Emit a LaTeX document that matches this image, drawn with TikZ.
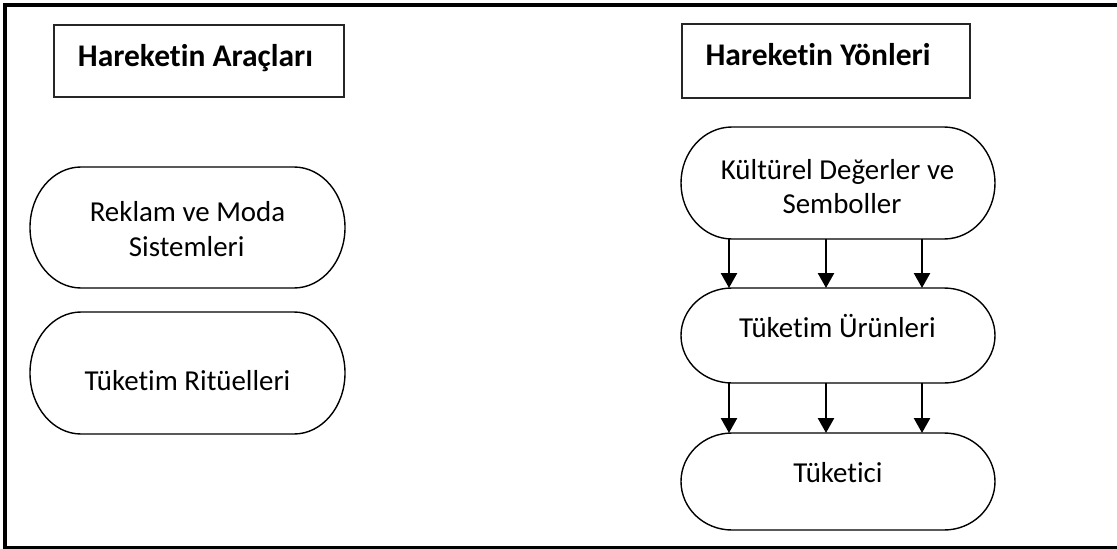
\documentclass[tikz,border=0pt]{standalone}
\usepackage{fontspec}
\setmainfont{Carlito}[Ligatures=NoCommon]
\usetikzlibrary{arrows.meta,calc}

% Outline of a flowchart "terminator": straight top and bottom edges,
% elliptical ends spanning the full height of the named node.
\newcommand\termoutline[1]{%
  \draw[termline] let \p1=(#1.north east), \p2=(#1.south west),
      \n1={(\y1-\y2)/2} in
    (\x2+51pt,\y1) -- (\x1-51pt,\y1)
    arc[start angle=90,end angle=-90,x radius=51pt,y radius=\n1]
    -- (\x2+51pt,\y2)
    arc[start angle=270,end angle=90,x radius=51pt,y radius=\n1]
    -- cycle;}

\begin{document}
\begin{tikzpicture}[x=1pt,y=-1pt,
  frameline/.style={line width=3.4pt},
  headbox/.style={draw=black!85,line width=1.5pt,inner sep=0pt,outer sep=0pt},
  termbox/.style={draw=none,inner sep=0pt,outer sep=0pt},
  termline/.style={line width=1.4pt},
  headtext/.style={inner sep=0pt,anchor=base,font=\fontsize{31.5}{38}\selectfont\bfseries},
  bodytext/.style={inner sep=0pt,anchor=base,font=\fontsize{28.9}{34.5}\selectfont},
  flow/.style={line width=2.5pt,-{Triangle[length=15pt,width=16pt]}}]

\useasboundingbox (0,0) rectangle (1117,549);

% outer frame
\draw[frameline] (5,5) rectangle (1120,547.4);

% column headers
\node[headbox,minimum width=290pt,minimum height=72pt] (hb1) at (199,61) {};
\node[headtext] (ht1) at (195.5,66) {Hareketin Araçları};
\node[headbox,minimum width=288pt,minimum height=74pt] (hb2) at (826,61) {};
\node[headtext] (ht2) at (818,65) {Hareketin Yönleri};

% left column
\node[termbox,minimum width=315pt,minimum height=121pt] (rb1) at (187.5,227.5) {};
\node[termbox,minimum width=315pt,minimum height=122pt] (rb2) at (187.5,373) {};
\termoutline{rb1}
\termoutline{rb2}
\node[bodytext] (t1a) at (187.5,221.5) {Reklam ve Moda};
\node[bodytext] (t1b) at (186.7,256.7) {Sistemleri};
\node[bodytext] (t2) at (187.5,390.5) {Tüketim Ritüelleri};

% right column
\node[termbox,minimum width=314pt,minimum height=112pt] (rb3) at (838,183) {};
\node[termbox,minimum width=314pt,minimum height=95pt] (rb4) at (838,335.5) {};
\node[termbox,minimum width=314pt,minimum height=97pt] (rb5) at (838,481.5) {};
\termoutline{rb3}
\termoutline{rb4}
\termoutline{rb5}
\node[bodytext] (t3a) at (837.5,179.3) {Kültürel Değerler ve};
\node[bodytext] (t3b) at (842,213.3) {Semboller};
\node[bodytext] (t4) at (837.5,337.3) {Tüketim Ürünleri};
\node[bodytext] (t5) at (838,482.7) {Tüketici};

% arrows between the stages
\foreach \dx in {-109,-12,84} {
  \draw[flow] ([xshift=\dx pt]rb3.south) -- ([xshift=\dx pt]rb4.north);
  \draw[flow] ([xshift=\dx pt]rb4.south) -- ([xshift=\dx pt]rb5.north);
}
\end{tikzpicture}
\end{document}
